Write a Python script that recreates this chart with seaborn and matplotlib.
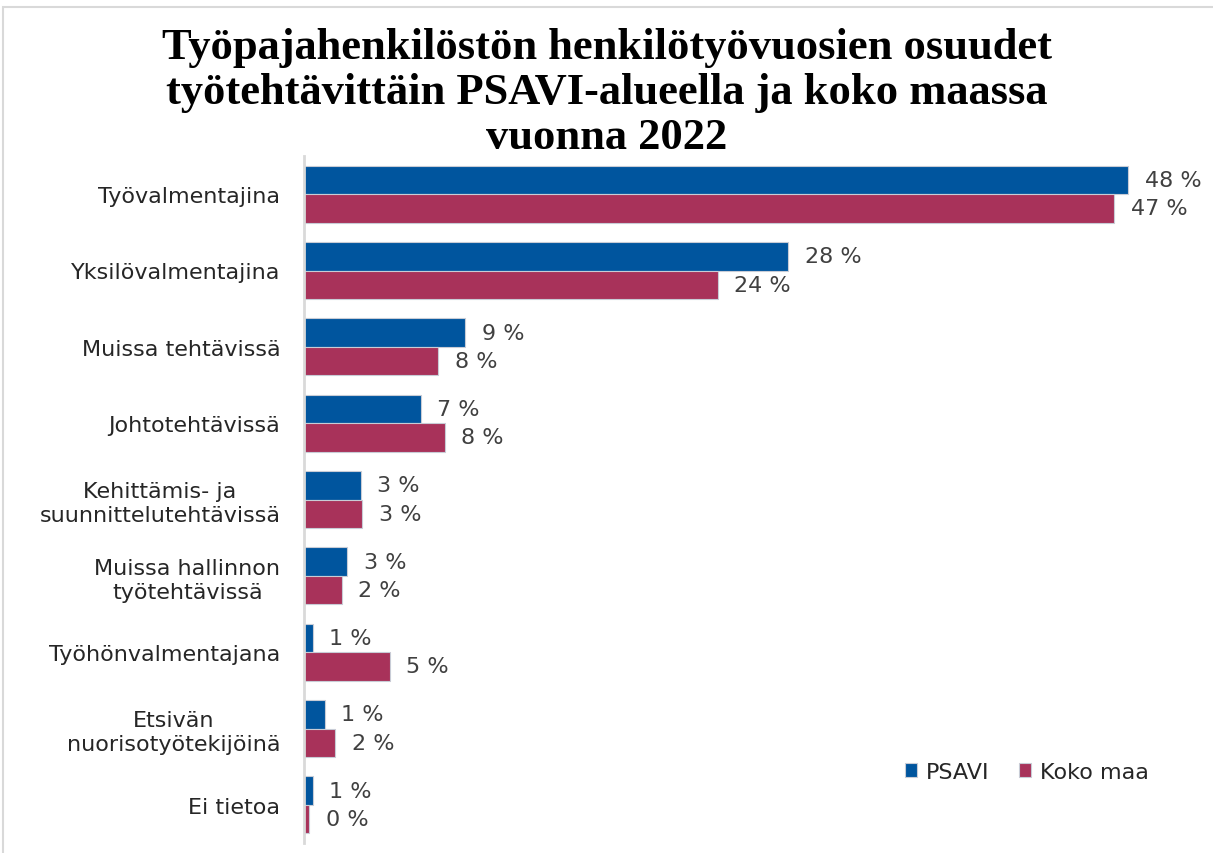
import matplotlib
matplotlib.use("Agg")
import matplotlib.pyplot as plt
from matplotlib.patches import Rectangle
import seaborn as sns
import pandas as pd

categories = [
    "Työvalmentajina",
    "Yksilövalmentajina",
    "Muissa tehtävissä",
    "Johtotehtävissä",
    "Kehittämis- ja\nsuunnittelutehtävissä",
    "Muissa hallinnon\ntyötehtävissä",
    "Työhönvalmentajana",
    "Etsivän\nnuorisotyötekijöinä",
    "Ei tietoa",
]
series_names = ["PSAVI", "Koko maa"]
psavi = [48.0, 28.2, 9.4, 6.8, 3.3, 2.5, 0.5, 1.2, 0.5]
koko_maa = [47.2, 24.1, 7.8, 8.2, 3.4, 2.2, 5.0, 1.8, 0.3]
psavi_labels = ["48 %", "28 %", "9 %", "7 %", "3 %", "3 %", "1 %", "1 %", "1 %"]
koko_labels = ["47 %", "24 %", "8 %", "8 %", "3 %", "2 %", "5 %", "2 %", "0 %"]
title = "Työpajahenkilöstön henkilötyövuosien osuudet\ntyötehtävittäin PSAVI-alueella ja koko maassa\nvuonna 2022"

df = pd.DataFrame({
    "Tehtävä": categories * 2,
    "Sarja": [series_names[0]] * len(categories) + [series_names[1]] * len(categories),
    "Osuus": psavi + koko_maa,
})

sns.set_theme(style="white")
plt.rcParams["font.family"] = ["DejaVu Sans"]

W, H = 1213, 854
fig = plt.figure(figsize=(W / 100, H / 100), dpi=100)
fig.patch.set_facecolor("white")
fig.patches.append(Rectangle((3 / W, -0.01), 1.0, 1 - 8 / H + 0.01, transform=fig.transFigure,
                             fill=False, edgecolor="#D9D9D9", linewidth=1.5))

ax = fig.add_axes([304 / W, 1 - 844 / H, (1200 - 304) / W, 687 / H])
palette = {"PSAVI": "#00559E", "Koko maa": "#A8325A"}
sns.barplot(data=df, y="Tehtävä", x="Osuus", hue="Sarja", order=categories,
            hue_order=series_names, palette=palette, orient="h", width=0.75,
            edgecolor="#C8CCD6", linewidth=0.8, saturation=1, ax=ax, legend=True)

ax.set_xlim(0, 52.2)
ax.set_ylim(8.5, -0.5)
ax.set_xlabel("")
ax.set_ylabel("")
ax.set_xticks([])
for s in ["top", "right", "bottom"]:
    ax.spines[s].set_visible(False)
ax.spines["left"].set_color("#D9D9D9")
ax.spines["left"].set_linewidth(2)
ax.tick_params(axis="y", length=0, pad=17)
for lab in ax.get_yticklabels():
    lab.set_fontsize(16)
    lab.set_color("#262626")
    lab.set_multialignment("center")
    lab.set_linespacing(1.25)

for cont, labs in zip(ax.containers, [psavi_labels, koko_labels]):
    ax.bar_label(cont, labels=labs, padding=12, fontsize=16, color="#404040")

leg = ax.legend(loc="lower right", bbox_to_anchor=(0.965, 0.06), ncol=2, frameon=False,
                fontsize=16, handlelength=0.55, handleheight=0.55, handletextpad=0.4,
                columnspacing=1.3)
for t in leg.get_texts():
    t.set_color("#262626")

fig.text(0.5, 1 - 93 / H, title, ha="center", va="center", fontsize=32,
         fontweight="bold", family="Liberation Serif", linespacing=1.15, color="black")

fig.savefig("out.png", dpi=100)
